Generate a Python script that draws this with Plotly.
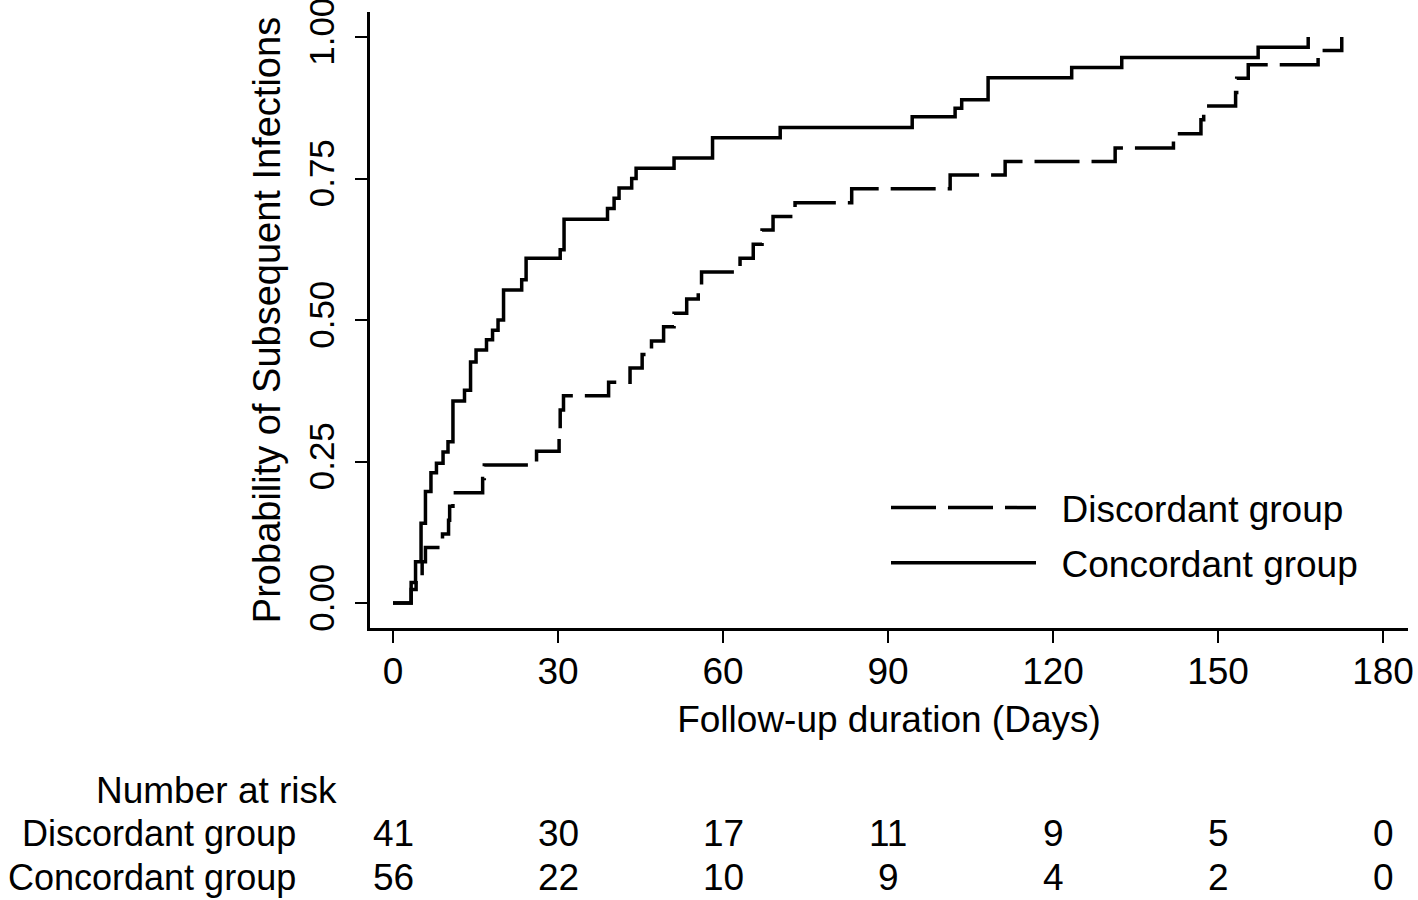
import plotly.graph_objects as go

# Kaplan-Meier style cumulative incidence
conc_days = [0, 3.3, 4.1, 5.1, 5.9, 6.9, 7.9, 9.1, 10.0, 10.9, 13.0, 14.1, 15.1, 17.0, 18.1,
             19.1, 20.1, 23.4, 24.2, 30.4, 31.1, 39.0, 40.2, 41.1, 43.4, 44.2, 51.1, 58.1,
             70.4, 94.4, 102.2, 103.4, 108.2, 123.4, 132.5, 157.3, 166.4]
conc_prob = [0, 0.036, 0.073, 0.141, 0.197, 0.230, 0.247, 0.267, 0.285, 0.357, 0.376, 0.426,
             0.447, 0.465, 0.482, 0.500, 0.553, 0.571, 0.609, 0.624, 0.678, 0.697, 0.715,
             0.733, 0.750, 0.768, 0.786, 0.822, 0.840, 0.859, 0.874, 0.889, 0.928, 0.946,
             0.964, 0.982, 1.000]

disc_days = [0, 3.3, 4.2, 5.3, 5.9, 9.0, 10.1, 10.3, 10.9, 16.3, 16.6, 26.1, 30.2, 30.4, 31.0,
             39.2, 43.1, 45.3, 47.0, 49.2, 51.1, 53.4, 55.5, 56.1, 63.1, 65.5, 67.1, 69.1,
             73.1, 83.4, 101.3, 111.3, 131.3, 141.9, 146.9, 147.4, 153.2, 153.4, 155.5,
             168.2, 172.5]
disc_prob = [0, 0.024, 0.049, 0.073, 0.098, 0.122, 0.146, 0.171, 0.195, 0.220, 0.244, 0.268,
             0.293, 0.341, 0.366, 0.390, 0.415, 0.439, 0.463, 0.488, 0.512, 0.537, 0.561,
             0.585, 0.609, 0.634, 0.659, 0.683, 0.707, 0.732, 0.756, 0.780, 0.804, 0.829,
             0.854, 0.878, 0.902, 0.927, 0.951, 0.976, 1.000]

x_ticks = [0, 30, 60, 90, 120, 150, 180]
y_ticks = [0, 0.25, 0.5, 0.75, 1.0]
y_ticklabels = ["0.00", "0.25", "0.50", "0.75", "1.00"]

risk_groups = ["Discordant group", "Concordant group"]
risk_disc = [41, 30, 17, 11, 9, 5, 0]
risk_conc = [56, 22, 10, 9, 4, 2, 0]

FONT = "Liberation Sans, Arial, sans-serif"
FS = 37
PAD = "\u00a0\u00a0"

fig = go.Figure()
fig.add_trace(go.Scatter(x=disc_days, y=disc_prob, mode="lines", line_shape="hv",
                         name=PAD + "Discordant group", legendgroup="d",
                         line=dict(color="black", width=3.5, dash="45px,12px")))
fig.add_trace(go.Scatter(x=conc_days, y=conc_prob, mode="lines", line_shape="hv",
                         name=PAD + "Concordant group", legendgroup="c",
                         line=dict(color="black", width=3.5)))

L, R, T, B = 370, 1408, 12, 628
W, H = 1418, 900
pw, ph = R - L, B - T

def px_to_paper_x(px):
    return (px - L) / pw

def py_to_paper_y(py):
    return (B - py) / ph

fig.update_layout(
    width=W, height=H,
    margin=dict(l=L, r=W - R, t=T, b=H - B, pad=0, autoexpand=False),
    paper_bgcolor="white", plot_bgcolor="white",
    font=dict(family=FONT, size=FS, color="black"),
    showlegend=True,
    legend=dict(x=px_to_paper_x(886), y=py_to_paper_y(477), xanchor="left", yanchor="top",
                bgcolor="rgba(0,0,0,0)", itemwidth=145, tracegroupgap=4,
                traceorder="grouped", font=dict(size=FS)),
    xaxis=dict(range=[(L - 393) / 5.5, (R - 393) / 5.5], tickvals=x_ticks,
               automargin=False,
               showline=True, linecolor="black", linewidth=2.5, ticks="outside",
               ticklen=12, tickwidth=2, tickcolor="black", showgrid=False, zeroline=False,
               ticklabeloverflow="allow", ticklabelstandoff=-3,
               title=dict(text="Follow-up duration (Days)", standoff=15,
                          font=dict(size=FS)),
               tickfont=dict(size=FS)),
    yaxis=dict(range=[-(B - 603) / 566, (603 - T) / 566], tickvals=y_ticks,
               ticktext=y_ticklabels, tickangle=-90, ticklabelstandoff=7,
               ticklabeloverflow="allow", automargin=False,
               showline=True, linecolor="black", linewidth=2.5, ticks="outside",
               ticklen=12, tickwidth=2, tickcolor="black", showgrid=False, zeroline=False,
               title=dict(text="Probability of Subsequent Infections", standoff=10,
                          font=dict(size=38)),
               tickfont=dict(size=35)),
)

# Number at risk table
fig.add_annotation(text="Number at risk", xref="paper", yref="paper",
                   x=px_to_paper_x(339), y=py_to_paper_y(790), xanchor="right",
                   yanchor="middle", showarrow=False, font=dict(size=FS))
for gi, (grp, vals) in enumerate(zip(risk_groups, [risk_disc, risk_conc])):
    ypix = 833 + gi * 44
    fig.add_annotation(text=grp, xref="paper", yref="paper", x=px_to_paper_x(298),
                       y=py_to_paper_y(ypix), xanchor="right", yanchor="middle",
                       showarrow=False, font=dict(size=36))
    for xv, v in zip(x_ticks, vals):
        fig.add_annotation(text=str(v), xref="x", yref="paper", x=xv,
                           y=py_to_paper_y(ypix), xanchor="center", yanchor="middle",
                           showarrow=False, font=dict(size=FS))

fig.write_html("out.html", config={"displayModeBar": False},
               post_script="document.body.style.margin='0';document.body.style.padding='0';")
